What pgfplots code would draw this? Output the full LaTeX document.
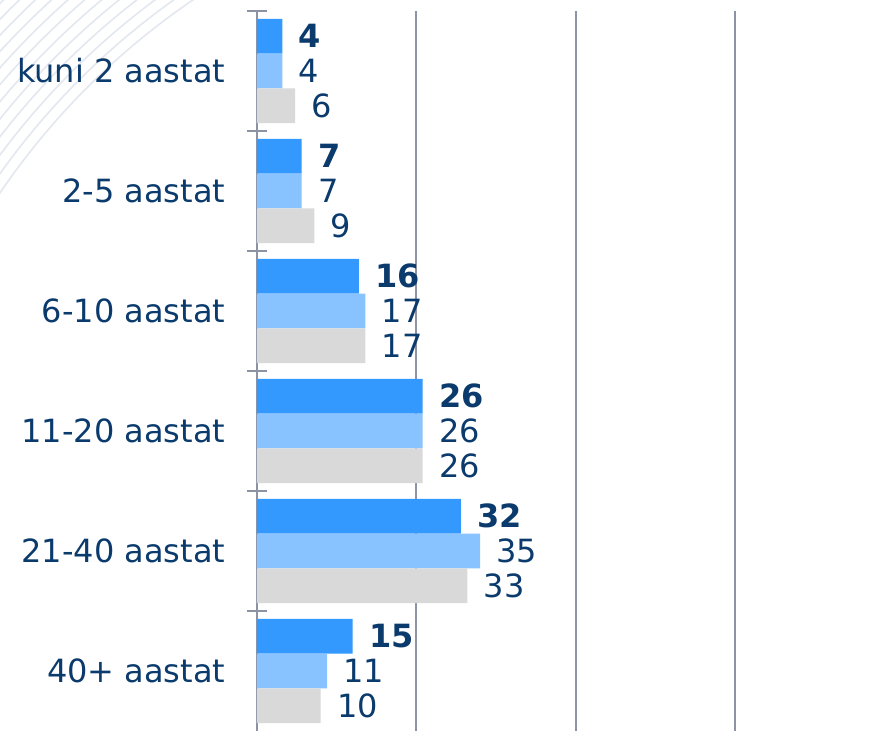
\documentclass[border=0pt]{standalone}
\usepackage{pgfplots}
\pgfplotsset{compat=1.18}
\usepackage{fontspec}
\setmainfont{DejaVu Sans}

\definecolor{barblue}{HTML}{3399FF}
\definecolor{barlight}{HTML}{88C2FF}
\definecolor{bargray}{HTML}{D9D9D9}
\definecolor{navy}{HTML}{0B3A6C}
\definecolor{axgray}{HTML}{8C93A4}
\definecolor{deco}{HTML}{E3E7EE}

\begin{document}
\begin{tikzpicture}
% frame in pixel units, origin at the top left of the picture
\begin{scope}[shift={(-128.5pt,365.5pt)}, x=0.5pt, y=-0.5pt]
  \path[use as bounding box] (0,0) rectangle (883,730);
  \begin{scope}
    \clip (0,0) rectangle (883,730);
    \foreach \r in {725,736,...,862}
      \draw[deco, line width=0.8pt] (600,600) circle (\r);
  \end{scope}
\end{scope}

\begin{axis}[
    scale only axis, width=313pt, height=360pt,
    xbar, bar width=0.29,
    xmin=0, xmax=98.2,
    ymin=-0.5, ymax=5.5, y dir=reverse,
    axis y line*=left, axis x line*=bottom,
    x axis line style={draw=none},
    y axis line style={axgray, line width=1pt},
    xtick={25,50,75}, xticklabels={},
    xmajorgrids, grid style={axgray, line width=1pt},
    major x tick style={draw=none},
    ytick={0,...,5},
    yticklabels={kuni 2 aastat, 2-5 aastat, 6-10 aastat, 11-20 aastat, 21-40 aastat, 40+ aastat},
    major y tick style={draw=none},
    minor ytick={-0.5,0.5,...,4.5},
    minor tick length=10pt, tick align=center,
    minor y tick style={axgray, line width=1pt},
    yticklabel style={font=\fontsize{16}{19}\selectfont, text=navy, inner sep=0pt, xshift=-13.5pt},
    /pgf/number format/assume math mode=true,
    point meta=x,
    nodes near coords,
    nodes near coords style={font=\fontsize{16}{19}\selectfont, text=navy, anchor=west, inner sep=0pt, xshift=8pt},
    clip=false,
]
\addplot[fill=barblue, draw=none, bar shift=-0.29,
    every node near coord/.append style={font=\fontsize{16}{19}\selectfont\bfseries}]
  coordinates {(4,0) (7,1) (16,2) (26,3) (32,4) (15,5)};
\addplot[fill=barlight, draw=none, bar shift=0]
  coordinates {(4,0) (7,1) (17,2) (26,3) (35,4) (11,5)};
\addplot[fill=bargray, draw=none, bar shift=0.29]
  coordinates {(6,0) (9,1) (17,2) (26,3) (33,4) (10,5)};
\end{axis}
\end{tikzpicture}
\end{document}
